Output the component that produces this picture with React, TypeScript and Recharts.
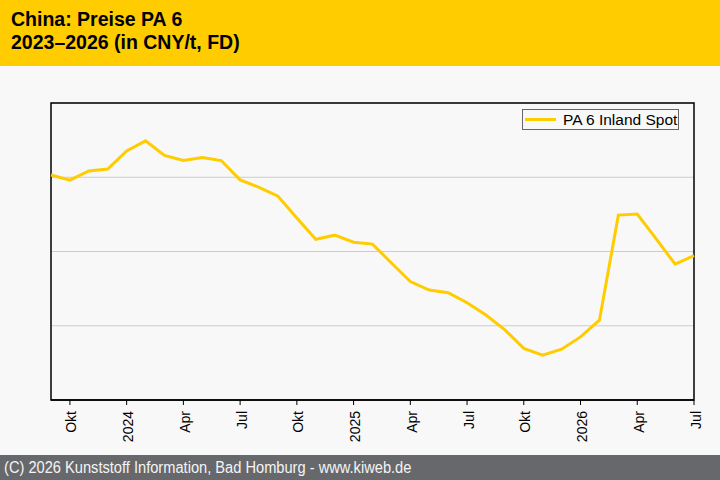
import React from "react";
import {
  LineChart,
  Line,
  XAxis,
  YAxis,
  CartesianGrid,
  ReferenceArea,
} from "recharts";

// month index 0 = Sep 2023 ... 34 = Jul 2026
const months = [
  0, 1, 2, 3, 4, 5, 6, 7, 8, 9, 10, 11, 12, 13, 14, 15, 16, 17, 18, 19, 20, 21,
  22, 23, 24, 25, 26, 27, 28, 29, 30, 31, 32, 33, 34,
];
const pa6Spot = [
  14060, 13920, 14170, 14220, 14710, 14980, 14590, 14450, 14530, 14450, 13930,
  13730, 13490, 12900, 12330, 12440, 12250, 12200, 11690, 11190, 10960, 10890,
  10620, 10290, 9890, 9390, 9210, 9370, 9700, 10150, 12980, 13010, 12340,
  11660, 11890,
];
const tickMonths = [1, 4, 7, 10, 13, 16, 19, 22, 25, 28, 31, 34];
const tickLabels = [
  "Okt", "2024", "Apr", "Jul", "Okt", "2025", "Apr", "Jul", "Okt", "2026", "Apr", "Jul",
];
const yTicks = [8000, 10000, 12000, 14000, 16000];

const data = months.map((m, i) => ({ m, spot: pa6Spot[i] }));

const YELLOW = "#FFCC00";
const FONT = "'Liberation Sans', Arial, sans-serif";

function MonthTick(props: any) {
  const { x, y, payload } = props;
  const idx = tickMonths.indexOf(payload.value);
  return (
    <g transform={`translate(${x},${y + 4})`}>
      <text
        transform="rotate(-90)"
        textAnchor="end"
        dy={6.5}
        fontSize={14}
        fontFamily={FONT}
        fill="#000"
      >
        {tickLabels[idx]}
      </text>
    </g>
  );
}

export default function App() {
  return (
    <div
      style={{
        position: "absolute",
        left: 0,
        top: 0,
        width: 720,
        height: 480,
        background: "#f8f8f8",
        fontFamily: FONT,
      }}
    >
      <div
        style={{
          height: 66,
          background: YELLOW,
          color: "#000",
          fontWeight: "bold",
          fontSize: 19.5,
          lineHeight: "23px",
          padding: "8px 0 0 11px",
          boxSizing: "border-box",
        }}
      >
        <div>China: Preise PA 6</div>
        <div>2023–2026 (in CNY/t, FD)</div>
      </div>

      <LineChart
        width={720}
        height={389}
        data={data}
        margin={{ top: 37, right: 26, left: 51, bottom: 0 }}
      >
        <CartesianGrid vertical={false} stroke="#cccccc" strokeWidth={1} />
        <XAxis
          dataKey="m"
          type="number"
          domain={[0, 34]}
          ticks={tickMonths}
          interval={0}
          height={55}
          axisLine={{ stroke: "#000", strokeWidth: 1.5 }}
          tickLine={{ stroke: "#000" }}
          tickSize={5}
          tick={<MonthTick />}
        />
        <YAxis hide domain={[8000, 16000]} ticks={yTicks} />
        <ReferenceArea
          x1={0}
          x2={34}
          y1={8000}
          y2={16000}
          stroke="#000"
          strokeWidth={1.5}
          fill="none"
          fillOpacity={0}
        />
        <Line
          type="linear"
          dataKey="spot"
          name="PA 6 Inland Spot"
          stroke={YELLOW}
          strokeWidth={3}
          dot={false}
          isAnimationActive={false}
        />
      </LineChart>

      <div
        style={{
          position: "absolute",
          left: 522,
          top: 109,
          width: 155,
          height: 19,
          border: "1px solid #666",
          display: "flex",
          alignItems: "center",
          fontSize: 15.5,
          color: "#000",
        }}
      >
        <div style={{ width: 31, height: 3, background: YELLOW, marginLeft: 2, marginRight: 7 }} />
        <span style={{ whiteSpace: "nowrap" }}>PA 6 Inland Spot</span>
      </div>

      <div
        style={{
          position: "absolute",
          left: 0,
          top: 455,
          width: 720,
          height: 25,
          background: "#67686c",
          color: "#f4f4f4",
          fontSize: 16,
          lineHeight: "25px",
          boxSizing: "border-box",
          whiteSpace: "nowrap",
        }}
      >
        <span
          style={{
            display: "inline-block",
            marginLeft: 4,
            transform: "scaleX(0.915)",
            transformOrigin: "left center",
          }}
        >
          (C) 2026 Kunststoff Information, Bad Homburg - www.kiweb.de
        </span>
      </div>
    </div>
  );
}
